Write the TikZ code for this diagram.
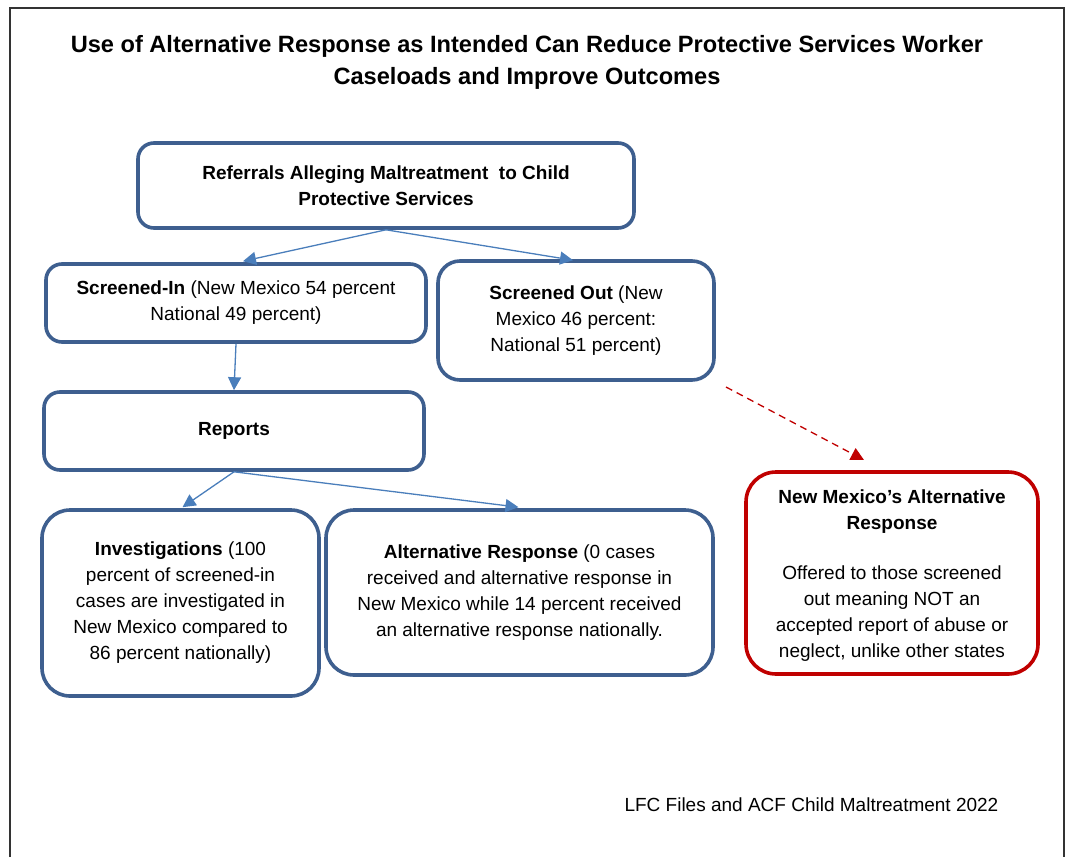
\documentclass[tikz,border=0pt]{standalone}
\usepackage{fontspec}
\setmainfont{Liberation Sans}
\usetikzlibrary{arrows.meta,calc}
\definecolor{boxblue}{HTML}{3E5F8F}
\definecolor{arrowblue}{HTML}{4A7EBB}
\definecolor{alertred}{HTML}{C00000}
\definecolor{framegray}{HTML}{333333}
\begin{document}
\begin{tikzpicture}[x=1pt,y=-1pt,
  bodyfont/.style={font=\fontsize{19}{26}\selectfont},
  flowbox/.style={draw=boxblue, line width=3.6pt, rounded corners=16pt,
    align=center, inner sep=0pt, bodyfont},
  bigbox/.style={flowbox, rounded corners=28pt},
  alertbox/.style={flowbox, draw=alertred, rounded corners=30pt},
  flowarrow/.style={draw=arrowblue, line width=1.3pt,
    -{Triangle[length=13pt,width=13pt]}},
  alertarrow/.style={draw=alertred, line width=1.3pt, dash pattern=on 7pt off 5pt,
    -{Triangle[length=13pt,width=13pt]}},
]
\useasboundingbox (0,0) rectangle (1068,857);
% page frame, open at the bottom
\draw[framegray, line width=1.4pt] (10,857) -- (10,8) -- (1064,8) -- (1064,857);

% title
\node[font=\fontsize{23.6}{32}\selectfont\bfseries, align=center] (title) at (527,62)
  {Use of Alternative Response as Intended Can Reduce Protective Services Worker\\
   Caseloads and Improve Outcomes};

% boxes
\node[flowbox, minimum width=496pt, minimum height=85pt] (ref) at (386,185.5)
  {\textbf{Referrals Alleging Maltreatment\ \ to Child}\\ \textbf{Protective Services}};
\node[flowbox, minimum width=380pt, minimum height=78pt] (sin) at (236,303)
  {\textbf{Screened-In} (New Mexico 54 percent\\ National 49 percent)};
\node[flowbox, rounded corners=22pt, minimum width=276pt, minimum height=119pt] (sout) at (576,320.5)
  {\textbf{Screened Out} (New\\ Mexico 46 percent:\\ National 51 percent)};
\node[flowbox, minimum width=380pt, minimum height=78pt] (rep) at (234,431)
  {\textbf{Reports}};
\node[bigbox, minimum width=277pt, minimum height=186pt] (inv) at (180.5,603)
  {\textbf{Investigations} (100\\ percent of screened-in\\ cases are investigated in\\
   New Mexico compared to\\ 86 percent nationally)};
\node[bigbox, minimum width=387pt, minimum height=165pt] (alt) at (519.5,592.5)
  {\textbf{Alternative Response} (0 cases\\ received and alternative response in\\
   New Mexico while 14 percent received\\ an alternative response nationally.};
\node[alertbox, minimum width=292pt, minimum height=202pt] (nm) at (892,573)
  {\rule{0pt}{19pt}\textbf{New Mexico’s Alternative}\\ \textbf{Response}\\[24pt]
   Offered to those screened\\ out meaning NOT an\\ accepted report of abuse or\\
   neglect, unlike other states};

% connectors
\draw[flowarrow] (ref.south) -- ($(sin.north)+(7,-1)$);
\draw[flowarrow] (ref.south) -- ($(sout.north)+(-3,1)$);
\draw[flowarrow] (sin.south) -- (rep.north);
\draw[flowarrow] (rep.south) -- ($(inv.north)+(2,-1)$);
\draw[flowarrow] (rep.south) -- ($(alt.north)+(-1,-1)$);
\coordinate (dashstart) at (726,387);
\coordinate (dashend) at (864,460);
\draw[alertarrow] (dashstart) -- (dashend);

% source note
\node[bodyfont, anchor=west] (source) at (621,805) {LFC Files and ACF Child Maltreatment 2022};
\end{tikzpicture}
\end{document}
